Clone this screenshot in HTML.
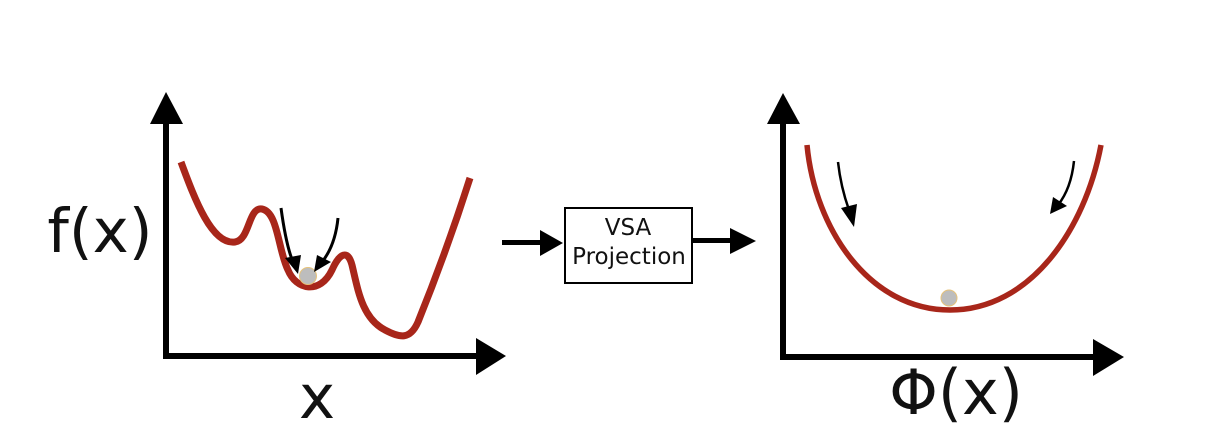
<!DOCTYPE html>
<html><head><style>
html,body{margin:0;padding:0;background:#fff;width:1230px;height:444px;overflow:hidden}
</style></head><body>
<svg width="1230" height="444" viewBox="0 0 1230 444" xmlns="http://www.w3.org/2000/svg">
<g fill="#000" stroke="none">
<rect x="163" y="118" width="6" height="240"/>
<polygon points="166,92 150,124 183,124"/>
<rect x="163" y="353" width="318" height="6"/>
<polygon points="506,356 476,338 476,375"/>
<rect x="780" y="118" width="6" height="242"/>
<polygon points="783,93 767,124 800,124"/>
<rect x="780" y="354" width="318" height="6"/>
<polygon points="1124,357 1093,339 1093,376"/>
<rect x="502" y="240" width="40" height="5"/>
<polygon points="563,243 540,230 540,256"/>
<rect x="692" y="238" width="40" height="5"/>
<polygon points="756,241 730,228 730,254"/>
</g>
<path d="M181,162 C195,200 212,245 235,242 C250,240 248,207 262,209 C278,212 278,250 288,270 C296,290 320,295 332,270 C340,252 348,250 352,265 C358,290 362,318 385,330 C400,338 410,340 418,322 C435,280 455,225 470,178" fill="none" stroke="#a8261a" stroke-width="7"/>
<circle cx="308" cy="276" r="8.5" fill="#bdbdbd" stroke="#e6c27a" stroke-width="1"/>
<g stroke="#000" stroke-width="3" fill="none">
<path d="M281,208 C284,230 288,250 293,262"/>
<path d="M338,218 C336,238 330,252 322,262"/>
</g>
<g fill="#000">
<polygon points="298,274 285,258 301,255"/>
<polygon points="314,272 317,255 331,262"/>
</g>
<path d="M807,145 C815,230 870,310 950,310 C1030,310 1085,230 1101,145" fill="none" stroke="#a8261a" stroke-width="5.5"/>
<circle cx="949" cy="298" r="8" fill="#bdbdbd" stroke="#e6c27a" stroke-width="1"/>
<g stroke="#000" stroke-width="2.5" fill="none">
<path d="M838,162 C840,180 844,196 849,210"/>
<path d="M1074,161 C1072,180 1066,195 1058,205"/>
</g>
<g fill="#000">
<polygon points="854,227 841,208 857,204"/>
<polygon points="1050,214 1053,197 1067,206"/>
</g>
<rect x="565" y="208" width="127" height="75" fill="#fff" stroke="#000" stroke-width="2"/>
<g font-family="DejaVu Sans, sans-serif" fill="#111" text-anchor="middle">
<text x="628" y="235" font-size="23">VSA</text>
<text x="629" y="264" font-size="23">Projection</text>
<text x="100" y="252" font-size="61">f(x)</text>
<text x="317" y="418" font-size="61">x</text>
<text x="956" y="414" font-size="62">Φ(x)</text>
</g>
</svg>
</body></html>
